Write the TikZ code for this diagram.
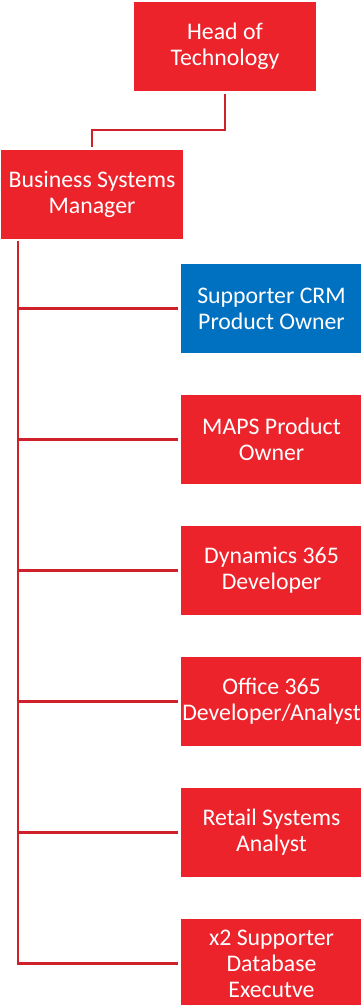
\documentclass[tikz,border=0pt]{standalone}
\usepackage{fontspec}
\setmainfont{Carlito}
\definecolor{boxred}{HTML}{EC232B}
\definecolor{boxblue}{HTML}{0070C0}
\definecolor{linkred}{HTML}{D0202A}
\begin{document}
\begin{tikzpicture}[x=1pt,y=-1pt,
  role/.style={fill=boxred, draw=none, inner sep=0pt, text=white, align=center,
    font=\fontsize{23.8}{26}\selectfont, minimum height=89pt},
  toprole/.style={role, minimum width=182pt},
  teamrole/.style={role, minimum width=181pt},
  link/.style={draw=linkred, line width=2.2pt}]
\useasboundingbox (0,0) rectangle (361,1005);
\clip (0,0) rectangle (361,1005);

% management chain
\node[toprole] (head) at (225,46.5) {Head of\\Technology};
\node[toprole] (bsm) at (92,194.5) {Business Systems\\Manager};

% team members
\node[teamrole, fill=boxblue] (crm) at (271.5,308.5) {Supporter CRM\\Product Owner};
\node[teamrole] (maps) at (271.5,439.5) {MAPS Product\\Owner};
\node[teamrole] (dyn) at (271.5,570.5) {Dynamics 365\\Developer};
\node[teamrole] (office) at (271.5,701.5) {Office 365\\Developer/Analyst};
\node[teamrole] (retail) at (271.5,832.5) {Retail Systems\\Analyst};
\node[teamrole] (dbexec) at (271.5,963.5) {x2 Supporter\\Database\\Executve};

% connectors
\draw[link, shorten <=3pt, shorten >=3pt] (head.south) -- (head.south |- 0,130) -| (bsm.north);
\coordinate (spine) at (18,241);
\draw[link, shorten >=3pt] (spine) |- (dbexec.west);
\foreach \n in {crm,maps,dyn,office,retail}
  \draw[link, shorten >=3pt] (spine |- \n.west) -- (\n.west);
\end{tikzpicture}
\end{document}
